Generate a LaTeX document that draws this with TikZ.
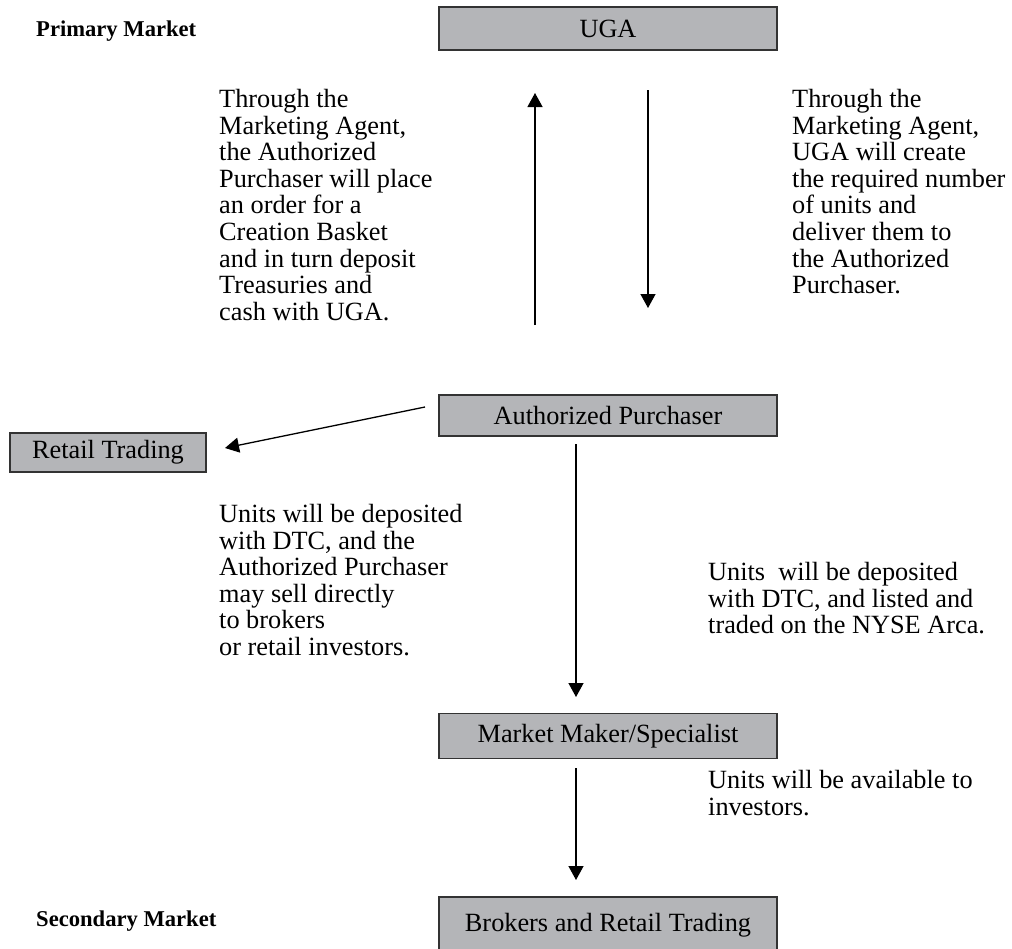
\documentclass[tikz,border=0pt]{standalone}
\usepackage{fontspec}
\setmainfont{Liberation Serif}
\usetikzlibrary{arrows.meta}
\definecolor{boxfill}{HTML}{B4B5B8}
\definecolor{boxline}{HTML}{333333}
\begin{document}
\begin{tikzpicture}[x=1pt,y=-1pt,
  gbox/.style={draw=boxline,line width=1.4pt,fill=boxfill,inner sep=0pt,
    font=\fontsize{26.3}{30}\selectfont},
  body/.style={anchor=north west,inner sep=0pt,align=left,
    font=\fontsize{26.3}{26.6}\selectfont},
  lbl/.style={anchor=west,inner sep=0pt,font=\fontsize{22.6}{26}\selectfont\bfseries},
  arr/.style={line width=1.3pt,-{Triangle[width=15pt,length=14pt]}}]
\useasboundingbox (0,0) rectangle (1012,948);
% boxes
\node[gbox,minimum width=338pt,minimum height=43pt] (uga) at (608,28.5) {UGA};
\node[gbox,minimum width=338pt,minimum height=41pt] (ap) at (608,415.5) {Authorized Purchaser};
\node[gbox,minimum width=196pt,minimum height=39pt] (rt) at (108,452.5) {Retail Trading};
\node[gbox,minimum width=338pt,minimum height=45pt] (mm) at (608,736) {Market Maker/Specialist};
\node[gbox,minimum width=338pt,minimum height=56pt] (br) at (608,925) {Brokers and Retail Trading};
% side labels
\node[lbl] (pm) at (36,31) {Primary Market};
\node[lbl] (sm) at (36,921) {Secondary Market};
% texts
\node[body] (t1) at (219,89) {Through the\\Marketing Agent,\\the Authorized\\Purchaser will place\\an order for a\\Creation Basket\\and in turn deposit\\Treasuries and\\cash with UGA.};
\node[body] (t2) at (792,89) {Through the\\Marketing Agent,\\UGA will create\\the required number\\of units and\\deliver them to\\the Authorized\\Purchaser.};
\node[body] (t3) at (219,504) {Units will be deposited\\with DTC, and the\\Authorized Purchaser\\may sell directly\\to brokers\\or retail investors.};
\node[body] (t4) at (708,562) {Units\ \ will be deposited\\with DTC, and listed and\\traded on the NYSE Arca.};
\node[body] (t5) at (708,770) {Units will be available to\\investors.};
% arrow end points
\coordinate (upS) at (535,325);
\coordinate (upE) at (535,93);
\coordinate (dnS) at (648,90);
\coordinate (dnE) at (648,308);
\coordinate (rtS) at (425,407);
\coordinate (rtE) at (225,448);
\coordinate (mmS) at (576,444);
\coordinate (mmE) at (576,697);
\coordinate (brS) at (576,768);
\coordinate (brE) at (576,880);
\draw[arr] (upS) -- (upE);
\draw[arr] (dnS) -- (dnE);
\draw[arr] (rtS) -- (rtE);
\draw[arr] (mmS) -- (mmE);
\draw[arr] (brS) -- (brE);
\end{tikzpicture}
\end{document}
